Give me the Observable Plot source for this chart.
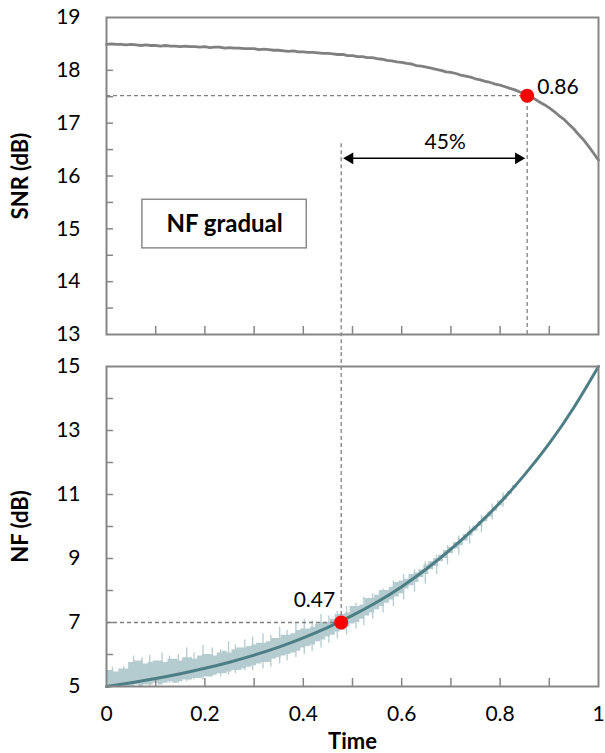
<!DOCTYPE html>
<html><head><meta charset="utf-8">
<script src="https://cdn.jsdelivr.net/npm/d3@7"></script>
<script src="https://cdn.jsdelivr.net/npm/@observablehq/plot@0.6"></script>
<style>
body{margin:0;background:#fff;}
#chart{width:605px;}
#chart svg{display:block;overflow:visible;}
</style></head><body><div id="chart"></div>
<script>
// ---- tick labels ----
const timeTicks = [0, 0.2, 0.4, 0.6, 0.8, 1];
const timeMinorTicks = [0.1, 0.2, 0.3, 0.4, 0.5, 0.6, 0.7, 0.8, 0.9];
const snrTicks = [13, 14, 15, 16, 17, 18, 19];
const snrMinorTicks = [13.5, 14, 14.5, 15, 15.5, 16, 16.5, 17, 17.5, 18, 18.5];
const nfTicks = [5, 7, 9, 11, 13, 15];
const nfMinorTicks = [6, 7, 8, 9, 10, 11, 12, 13, 14];

// ---- SNR series (every 0.01 of time) ----
const snrStep = 0.01;
const snrValues = [18.49,18.50,18.49,18.49,18.48,18.49,18.48,18.47,18.48,18.47,
  18.47,18.46,18.47,18.46,18.46,18.45,18.46,18.45,18.45,18.44,
  18.45,18.43,18.44,18.44,18.42,18.43,18.42,18.42,18.41,18.41,
  18.41,18.39,18.40,18.39,18.38,18.38,18.37,18.36,18.37,18.35,
  18.35,18.34,18.34,18.33,18.32,18.32,18.31,18.30,18.30,18.28,
  18.28,18.26,18.26,18.24,18.24,18.22,18.21,18.19,18.18,18.16,
  18.15,18.13,18.12,18.09,18.08,18.06,18.04,18.02,18.00,17.97,
  17.96,17.94,17.91,17.89,17.87,17.84,17.82,17.79,17.77,17.74,
  17.72,17.69,17.66,17.63,17.59,17.56,17.50,17.46,17.40,17.35,
  17.29,17.22,17.14,17.07,16.98,16.89,16.78,16.68,16.56,16.43,16.30];

// ---- NF smooth series (every 0.05 of time) ----
const nfStep = 0.05;
const nfValues = [5.00,5.12,5.25,5.40,5.57,5.76,5.98,6.23,6.52,6.85,7.22,
  7.64,8.12,8.67,9.29,9.98,10.75,11.62,12.60,13.72,15.00];

// ---- NF noisy measurement band, quantized levels (every 0.01 of time) ----
const noiseStep = 0.01;
const noiseHigh = [5.50,5.50,5.45,5.55,5.55,5.75,5.80,5.80,5.70,5.75,
  5.80,5.80,5.75,5.85,5.85,5.80,5.90,5.90,5.85,5.95,
  6.00,6.00,5.95,6.05,6.10,6.05,6.15,6.20,6.20,6.25,
  6.30,6.35,6.35,6.40,6.50,6.50,6.60,6.60,6.65,6.75,
  6.80,6.80,6.85,6.95,7.00,7.00,7.10,7.25,7.25,7.30,
  7.50,7.50,7.55,7.75,7.75,7.85,8.00,8.00,8.10,8.25,
  8.30,8.35,8.50,8.55,8.65,8.80,8.90,9.00,9.10,9.25,
  9.35,9.50,9.60,9.75,9.85,10.00,10.15,10.30,10.45,10.60,
  10.80,10.95,11.10,11.28,11.41];
const noiseLow = [5.00,5.00,5.00,5.00,5.00,5.00,5.05,5.00,5.05,5.05,
  5.10,5.05,5.10,5.15,5.10,5.15,5.20,5.20,5.25,5.25,
  5.30,5.30,5.35,5.40,5.40,5.45,5.50,5.50,5.55,5.60,
  5.65,5.70,5.75,5.75,5.85,5.90,5.95,6.00,6.05,6.10,
  6.20,6.25,6.30,6.40,6.45,6.55,6.60,6.70,6.75,6.85,
  6.95,7.00,7.10,7.20,7.30,7.40,7.50,7.60,7.70,7.80,
  7.90,8.05,8.15,8.25,8.40,8.50,8.65,8.75,8.90,9.00,
  9.15,9.30,9.40,9.55,9.70,9.85,10.00,10.15,10.30,10.48,
  10.65,10.82,11.00,11.20,11.41];

// ---- NF noise spikes: time, low, high ----
const spikeTime = [0.012,0.035,0.055,0.072,0.088,0.113,0.128,0.146,0.163,0.178,
  0.196,0.215,0.232,0.248,0.262,0.281,0.297,0.318,0.334,0.352,
  0.367,0.385,0.402,0.418,0.436,0.452,0.469,0.488,0.507,0.523,
  0.541,0.562,0.583,0.604,0.626,0.648,0.671,0.693,0.716,0.738,
  0.762,0.784,0.806];
const spikeLow = [5.00,5.00,5.00,5.00,5.00,5.10,5.10,5.10,5.15,5.20,
  5.20,5.30,5.30,5.35,5.40,5.50,5.50,5.55,5.60,5.70,
  5.80,5.90,6.00,6.10,6.20,6.35,6.50,6.60,6.80,6.90,
  7.10,7.30,7.50,7.70,7.95,8.20,8.50,8.80,9.10,9.45,
  9.80,10.20,10.60];
const spikeHigh = [5.60,5.62,5.95,5.90,5.98,6.05,5.95,6.00,6.20,6.05,
  6.28,6.20,6.15,6.40,6.30,6.45,6.55,6.65,6.60,6.85,
  6.75,7.00,7.10,7.05,7.25,7.20,7.35,7.50,7.60,7.80,
  7.90,8.05,8.30,8.50,8.65,8.90,9.10,9.40,9.70,10.00,
  10.35,10.70,11.05];

// ---- annotations ----
const snrMarkTime = 0.855, snrMarkValue = 17.52, snrMarkLabel = "0.86";
const nfMarkTime = 0.477, nfMarkValue = 7.0, nfMarkLabel = "0.47";
const arrowLevel = 16.335, arrowLabel = "45%", leftGuideTop = 16.61;
const boxTime = [0.073, 0.407], boxSnr = [14.63, 15.55], boxLabel = "NF gradual";

const snr = snrValues.map((v, i) => ({t: i * snrStep, v}));
const nf = nfValues.map((v, i) => ({t: i * nfStep, v}));
const noise = noiseHigh.map((h, i) => ({t: i * noiseStep, hi: h, lo: noiseLow[i]}));
const spikes = spikeTime.map((t, i) => ({t, lo: spikeLow[i], hi: spikeHigh[i]}));

const font = "Lato, 'Open Sans', sans-serif";
const grey = "#868686", dashGrey = "#7f7f7f";
const W = 605, mL = 106, mR = 7;
const fmt = d => String(d);

const topPlot = Plot.plot({
  width: W, height: 350,
  marginLeft: mL, marginRight: mR, marginTop: 17, marginBottom: 16,
  x: {domain: [0, 1]},
  y: {domain: [13, 19]},
  style: {fontFamily: font, background: "white", overflow: "visible"},
  marks: [
    Plot.axisY({ticks: snrTicks, tickSize: 0, tickPadding: 26, fontSize: 21, fill: "black", label: null, tickFormat: fmt}),
    Plot.axisY({ticks: snrMinorTicks, tickSize: -7, tickFormat: () => "", stroke: grey, strokeWidth: 1.5, label: null}),
    Plot.axisX({ticks: timeMinorTicks, tickSize: -8, tickFormat: () => "", stroke: grey, strokeWidth: 1.5, label: null}),
    Plot.ruleY([snrMarkValue], {x1: 0, x2: snrMarkTime, stroke: dashGrey, strokeWidth: 1.3, strokeDasharray: "4,3"}),
    Plot.ruleX([snrMarkTime], {y1: 13, y2: snrMarkValue, stroke: dashGrey, strokeWidth: 1.3, strokeDasharray: "4,3"}),
    Plot.ruleX([nfMarkTime], {y1: leftGuideTop, y2: 13, insetBottom: -16, stroke: dashGrey, strokeWidth: 1.3, strokeDasharray: "4,3"}),
    Plot.line(snr, {x: "t", y: "v", stroke: "#808080", strokeWidth: 2.8}),
    Plot.ruleY([arrowLevel], {x1: nfMarkTime + 0.02, x2: snrMarkTime - 0.02, stroke: "black", strokeWidth: 1.6}),
    Plot.dot([nfMarkTime], {x: d => d, y: arrowLevel, symbol: "triangle2", r: 5.6, rotate: -90, dx: 8.7, fill: "black", stroke: "none"}),
    Plot.dot([snrMarkTime], {x: d => d, y: arrowLevel, symbol: "triangle2", r: 5.6, rotate: 90, dx: -8.7, fill: "black", stroke: "none"}),
    Plot.text([arrowLabel], {x: (nfMarkTime + snrMarkTime) / 2, y: arrowLevel, dx: 11, dy: -16, fontSize: 21, fill: "black", textAnchor: "middle"}),
    Plot.dot([snrMarkTime], {x: d => d, y: snrMarkValue, r: 7, fill: "#ff0000", stroke: "none"}),
    Plot.text([snrMarkLabel], {x: snrMarkTime, y: snrMarkValue, dx: 10, dy: -8, fontSize: 21, fill: "black", textAnchor: "start"}),
    Plot.rect([boxLabel], {x1: boxTime[0], x2: boxTime[1], y1: boxSnr[0], y2: boxSnr[1], fill: "white", stroke: "#8c8c8c", strokeWidth: 1.5}),
    Plot.text([boxLabel], {x: (boxTime[0] + boxTime[1]) / 2, y: (boxSnr[0] + boxSnr[1]) / 2, text: d => d, fontSize: 24, fontWeight: "bold", fill: "black"}),
    Plot.text(["SNR (dB)"], {frameAnchor: "left", dx: -86, rotate: -90, text: d => d, textAnchor: "middle", lineAnchor: "middle", fontSize: 22, fontWeight: "bold", fill: "black"}),
    Plot.frame({stroke: grey, strokeWidth: 2})
  ]
});

const bottomPlot = Plot.plot({
  width: W, height: 403,
  marginLeft: mL, marginRight: mR, marginTop: 16, marginBottom: 67,
  x: {domain: [0, 1]},
  y: {domain: [5, 15]},
  style: {fontFamily: font, background: "white", overflow: "visible"},
  marks: [
    Plot.areaY(noise, {x: "t", y1: "lo", y2: "hi", fill: "#b4cbcf", curve: "step"}),
    Plot.ruleX(spikes, {x: "t", y1: "lo", y2: "hi", stroke: "#b4cbcf", strokeWidth: 1.3}),
    Plot.axisY({ticks: nfTicks, tickSize: 0, tickPadding: 26, fontSize: 21, fill: "black", label: null, tickFormat: fmt}),
    Plot.axisY({ticks: nfMinorTicks, tickSize: -7, tickFormat: () => "", stroke: grey, strokeWidth: 1.5, label: null}),
    Plot.axisX({ticks: timeMinorTicks, tickSize: -8, tickFormat: () => "", stroke: grey, strokeWidth: 1.5, label: null}),
    Plot.axisX({ticks: timeTicks, tickSize: 0, tickPadding: 20, fontSize: 21, fill: "black", label: null, tickFormat: fmt}),
    Plot.ruleY([nfMarkValue], {x1: 0, x2: nfMarkTime, stroke: dashGrey, strokeWidth: 1.3, strokeDasharray: "4,3"}),
    Plot.ruleX([nfMarkTime], {y1: nfMarkValue, y2: 15, insetBottom: 16, stroke: dashGrey, strokeWidth: 1.3, strokeDasharray: "4,3"}),
    Plot.line(nf, {x: "t", y: "v", stroke: "#4e7e85", strokeWidth: 3, curve: "natural"}),
    Plot.dot([nfMarkTime], {x: d => d, y: nfMarkValue, r: 7, fill: "#ff0000", stroke: "none"}),
    Plot.text([nfMarkLabel], {x: nfMarkTime, y: nfMarkValue, dx: -6, dy: -22, fontSize: 21, fill: "black", textAnchor: "end"}),
    Plot.text(["NF (dB)"], {frameAnchor: "left", dx: -86, rotate: -90, text: d => d, textAnchor: "middle", lineAnchor: "middle", fontSize: 22, fontWeight: "bold", fill: "black"}),
    Plot.text(["Time"], {frameAnchor: "bottom", dy: 55, text: d => d, textAnchor: "middle", lineAnchor: "middle", fontSize: 22, fontWeight: "bold", fill: "black"}),
    Plot.frame({stroke: grey, strokeWidth: 2})
  ]
});

const chart = document.getElementById("chart");
chart.appendChild(topPlot);
chart.appendChild(bottomPlot);
</script></body></html>
